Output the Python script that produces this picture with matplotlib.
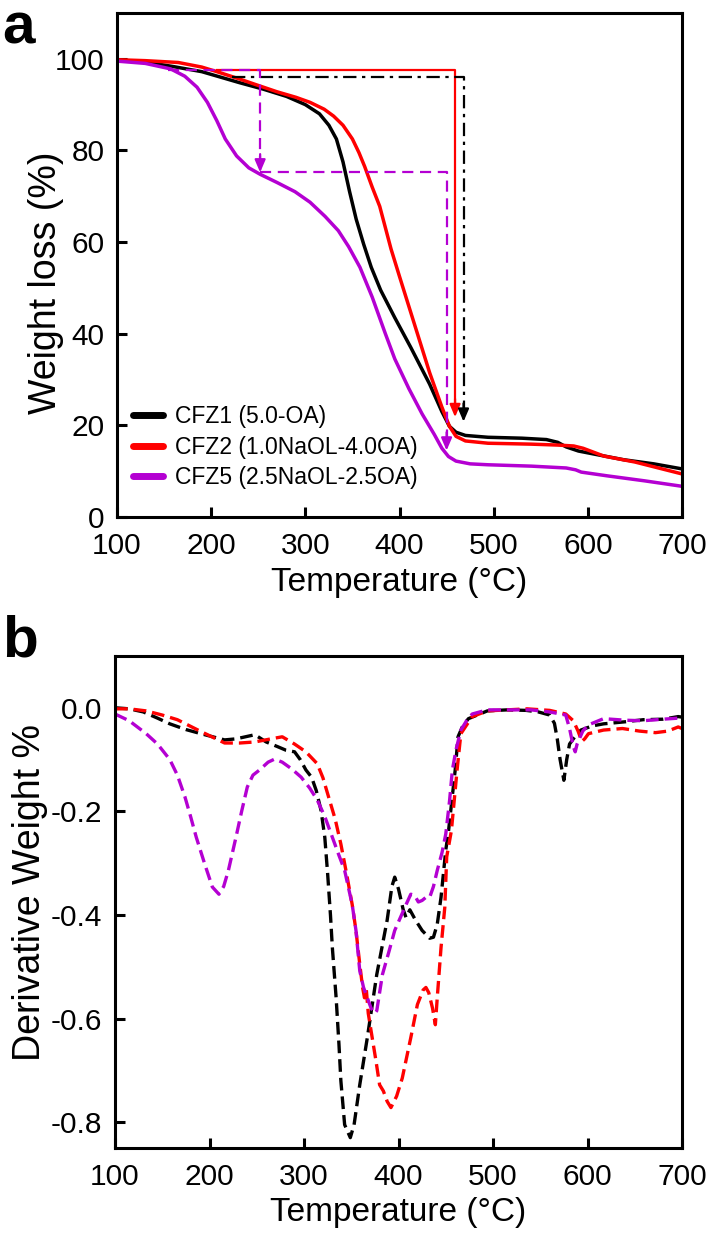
import matplotlib
matplotlib.use("Agg")
import matplotlib.pyplot as plt
import numpy as np

plt.rcParams['font.family'] = ['Liberation Sans', 'DejaVu Sans']

# ---------------- Panel a: TG data ----------------
tg_cfz1_x = [100, 130, 160, 190, 210, 230, 255, 280, 300, 315, 325, 333, 340, 347, 354, 362, 370, 380, 395, 412,
             432, 445, 453, 460, 470, 494, 530, 556, 568, 577, 590, 610, 638, 670, 700]
tg_cfz1_y = [99.8, 99.3, 98.3, 97.2, 96.0, 94.8, 93.4, 91.8, 90.0, 88.0, 85.5, 82.5, 77.5, 71.0, 65.0, 59.5, 54.5,
             49.5, 43.5, 37.0, 29.0, 23.0, 19.8, 18.5, 17.8, 17.4, 17.2, 16.9, 16.3, 15.3, 14.4, 13.6, 12.5, 11.6, 10.5]

tg_cfz2_x = [100, 130, 165, 190, 206, 230, 247, 270, 290, 305, 320, 330, 340, 350, 357, 363, 371, 379, 391, 400,
             416, 432, 445, 453, 460, 470, 494, 540, 568, 585, 595, 617, 650, 700]
tg_cfz2_y = [99.8, 99.6, 99.2, 98.2, 97.2, 95.6, 94.4, 92.8, 91.6, 90.5, 89.0, 87.5, 85.5, 82.5, 79.5, 76.5, 72.0,
             67.8, 58.5, 52.5, 42.0, 31.5, 24.0, 19.8, 17.6, 16.6, 16.1, 15.9, 15.7, 15.5, 15.0, 13.3, 12.0, 9.4]

tg_cfz5_x = [100, 130, 157, 172, 185, 196, 206, 215, 227, 240, 252, 270, 289, 305, 321, 335, 346, 358, 371, 385,
             395, 410, 424, 437, 445, 452, 460, 475, 494, 540, 577, 587, 593, 620, 660, 700]
tg_cfz5_y = [99.5, 99.0, 97.8, 96.2, 93.8, 90.5, 86.5, 82.5, 78.8, 76.2, 74.8, 73.0, 71.0, 68.7, 65.6, 62.5, 59.0,
             54.5, 48.0, 40.0, 34.5, 28.0, 22.5, 18.0, 15.0, 13.2, 12.2, 11.6, 11.4, 11.1, 10.7, 10.3, 9.8, 9.0, 7.9, 6.7]

labels = ['CFZ1 (5.0-OA)', 'CFZ2 (1.0NaOL-4.0OA)', 'CFZ5 (2.5NaOL-2.5OA)']
colors = ['#000000', '#ff0000', '#b400d2']

# annotation guide lines (x, y); last point is the arrow tip
guide_red_x = [206, 459, 459]
guide_red_y = [97.6, 97.6, 21.8]
guide_black_x = [222, 468, 468]
guide_black_y = [96.1, 96.1, 20.8]
guide_purple1_x = [154, 252, 252]
guide_purple1_y = [97.6, 97.6, 75.2]
guide_purple2_x = [252, 450, 450]
guide_purple2_y = [75.2, 75.2, 14.5]

# ---------------- Panel b: DTG data ----------------
dtg_cfz1_x = [100, 115, 130, 145, 158, 175, 195, 216, 228, 248, 260, 272, 281, 290, 296, 302, 308, 313, 318, 322,
              325, 328, 330, 334, 337, 339, 343, 349, 353, 359, 367, 377, 388, 393, 396, 400, 405, 408, 412, 418,
              425, 433, 437, 441, 445, 450, 453, 457, 460, 463, 468, 474, 494, 515, 535, 548, 560, 565, 568, 571,
              575, 578, 581, 587, 593, 605, 617, 640, 659, 680, 696, 700]
dtg_cfz1_y = [0.0, -0.002, -0.008, -0.02, -0.031, -0.042, -0.052, -0.062, -0.060, -0.052, -0.066, -0.075, -0.082,
              -0.085, -0.1, -0.12, -0.134, -0.16, -0.198, -0.25, -0.32, -0.40, -0.463, -0.56, -0.65, -0.72, -0.805,
              -0.83, -0.805, -0.728, -0.637, -0.515, -0.41, -0.345, -0.327, -0.35, -0.39, -0.405, -0.39, -0.41,
              -0.43, -0.445, -0.443, -0.418, -0.366, -0.275, -0.237, -0.17, -0.12, -0.056, -0.035, -0.021, -0.006,
              -0.004, -0.005, -0.008, -0.014, -0.03, -0.06, -0.1, -0.14, -0.1, -0.07, -0.055, -0.043, -0.035,
              -0.031, -0.027, -0.023, -0.022, -0.017, -0.018]

dtg_cfz2_x = [100, 115, 133, 150, 166, 190, 216, 232, 248, 265, 277, 290, 302, 314, 320, 326, 333, 339, 345, 351,
              355, 359, 362, 364, 366, 368, 371, 376, 380, 384, 388, 392, 398, 404, 413, 420, 426, 429, 432, 436,
              439, 441, 445, 449, 451, 456, 462, 466, 478, 494, 536, 560, 577, 585, 590, 594, 597, 601, 617, 637,
              655, 672, 685, 696, 700]
dtg_cfz2_y = [-0.002, -0.002, -0.006, -0.014, -0.023, -0.045, -0.068, -0.068, -0.066, -0.06, -0.056, -0.07, -0.085,
              -0.108, -0.135, -0.172, -0.215, -0.263, -0.32, -0.38, -0.43, -0.495, -0.54, -0.56, -0.545, -0.59,
              -0.624, -0.68, -0.728, -0.74, -0.76, -0.772, -0.75, -0.715, -0.637, -0.573, -0.545, -0.54, -0.55,
              -0.58, -0.612, -0.56, -0.463, -0.385, -0.288, -0.237, -0.12, -0.05, -0.017, -0.006, -0.002, -0.005,
              -0.012, -0.025, -0.045, -0.065, -0.06, -0.05, -0.043, -0.04, -0.045, -0.048, -0.045, -0.037, -0.04]

dtg_cfz5_x = [100, 115, 133, 145, 158, 166, 174, 180, 186, 195, 203, 210, 215, 220, 228, 234, 240, 246, 253, 262,
              269, 277, 287, 297, 306, 314, 322, 330, 337, 343, 351, 355, 359, 363, 367, 371, 375, 377, 380, 383,
              390, 396, 402, 408, 413, 417, 421, 425, 429, 433, 437, 441, 446, 450, 454, 457, 461, 466, 472, 478,
              494, 540, 560, 577, 581, 585, 587, 589, 595, 601, 617, 640, 659, 680, 696, 700]
dtg_cfz5_y = [-0.012, -0.025, -0.05, -0.07, -0.1, -0.13, -0.172, -0.21, -0.25, -0.302, -0.346, -0.36, -0.345,
              -0.314, -0.25, -0.2, -0.153, -0.13, -0.12, -0.105, -0.099, -0.105, -0.118, -0.134, -0.155, -0.178,
              -0.21, -0.25, -0.285, -0.314, -0.38, -0.43, -0.508, -0.54, -0.56, -0.58, -0.59, -0.585, -0.55,
              -0.515, -0.47, -0.43, -0.405, -0.38, -0.36, -0.362, -0.375, -0.372, -0.366, -0.366, -0.345, -0.314,
              -0.28, -0.244, -0.18, -0.12, -0.08, -0.043, -0.025, -0.012, -0.004, -0.004, -0.008, -0.014, -0.04,
              -0.075, -0.085, -0.07, -0.045, -0.033, -0.021, -0.024, -0.025, -0.022, -0.02, -0.02]

x_ticks = [100, 200, 300, 400, 500, 600, 700]
ya_ticks = [0, 20, 40, 60, 80, 100]
yb_ticks = [-0.8, -0.6, -0.4, -0.2, 0.0]
yb_ticklabels = ['-0.8', '-0.6', '-0.4', '-0.2', '0.0']

# ---------------- Figure ----------------
W, H = 708, 1240
fig = plt.figure(figsize=(W / 100, H / 100), dpi=100)
ax1 = fig.add_axes([117 / W, 1 - 517 / H, 565 / W, 504 / H])
ax2 = fig.add_axes([115 / W, 1 - 1148 / H, 567 / W, 492 / H])

TICK_FS = 21.5
XLABEL_FS = 24
YLABEL_FS = 27

def style(ax):
    for s in ax.spines.values():
        s.set_linewidth(2.2)
    ax.tick_params(direction='in', length=7, width=2.2, labelsize=TICK_FS, top=False, right=False)
    ax.tick_params(axis='x', pad=11)
    ax.tick_params(axis='y', pad=9)

# Panel a
tg_x = [tg_cfz1_x, tg_cfz2_x, tg_cfz5_x]
tg_y = [tg_cfz1_y, tg_cfz2_y, tg_cfz5_y]
for x, y, c, l in zip(tg_x, tg_y, colors, labels):
    ax1.plot(x, y, color=c, lw=2.5, label=l, solid_joinstyle='round')

def guide(ax, gx, gy, color, ls, lw):
    ax.plot(gx[:-1] + [gx[-1]], gy[:-1] + [gy[-1] + 3], color=color, ls=ls, lw=lw)
    ax.annotate('', xy=(gx[-1], gy[-1]), xytext=(gx[-1], gy[-1] + 4),
                arrowprops=dict(arrowstyle='-|>,head_length=0.75,head_width=0.32', color=color, lw=lw,
                                shrinkA=0, shrinkB=0))

guide(ax1, guide_red_x, guide_red_y, colors[1], '-', 1.6)
guide(ax1, guide_black_x, guide_black_y, colors[0], (0, (6, 2.5, 1.5, 2.5)), 1.6)
guide(ax1, guide_purple1_x, guide_purple1_y, colors[2], (0, (5, 3)), 1.6)
guide(ax1, guide_purple2_x, guide_purple2_y, colors[2], (0, (5, 3)), 1.6)

ax1.set_xlim(100, 700)
ax1.set_ylim(0, 110)
ax1.set_xticks(x_ticks)
ax1.set_yticks(ya_ticks)
ax1.set_xlabel('Temperature (°C)', fontsize=XLABEL_FS, labelpad=5)
ax1.set_ylabel('Weight loss (%)', fontsize=YLABEL_FS)
ax1.yaxis.set_label_coords(-0.094, 0.465)
style(ax1)
leg = ax1.legend(loc='lower left', bbox_to_anchor=(0.028, 0.055), frameon=False, fontsize=16.5,
                 handlelength=1.3, handletextpad=0.55, labelspacing=0.33, borderaxespad=0, borderpad=0)
for h in leg.legend_handles:
    h.set_linewidth(5)
    h.set_solid_capstyle('round')

# Panel b
dtg_x = [dtg_cfz1_x, dtg_cfz2_x, dtg_cfz5_x]
dtg_y = [dtg_cfz1_y, dtg_cfz2_y, dtg_cfz5_y]
for x, y, c in zip(dtg_x, dtg_y, colors):
    ax2.plot(x, y, color=c, lw=2.4, dashes=(3.8, 1.8))

ax2.set_xlim(100, 700)
ax2.set_ylim(-0.85, 0.1)
ax2.set_xticks(x_ticks)
ax2.set_yticks(yb_ticks)
ax2.set_yticklabels(yb_ticklabels)
ax2.set_xlabel('Temperature (°C)', fontsize=XLABEL_FS, labelpad=4)
ax2.set_ylabel('Derivative Weight %', fontsize=YLABEL_FS)
ax2.yaxis.set_label_coords(-0.118, 0.52)
style(ax2)

fig.text(2 / W, 1 - 44 / H, 'a', fontsize=42, fontweight='bold', va='baseline', ha='left')
fig.text(2 / W, 1 - 657 / H, 'b', fontsize=42, fontweight='bold', va='baseline', ha='left')

fig.savefig('out.png', dpi=100)
